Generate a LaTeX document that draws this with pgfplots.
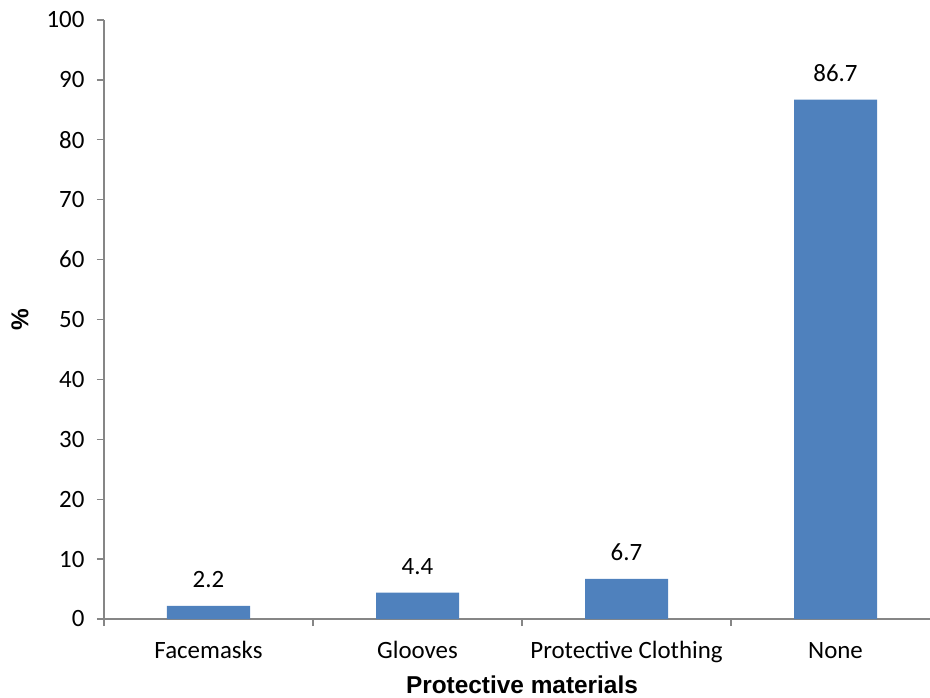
\documentclass[border=0pt]{standalone}
\usepackage{fontspec}
\setmainfont{Carlito}
\newfontfamily\arial{Liberation Sans}
\usepackage{pgfplots}
\pgfplotsset{compat=1.18}
\definecolor{barblue}{HTML}{4F81BD}
\definecolor{axgray}{HTML}{868686}
\newcommand\lab{\fontsize{24.9bp}{30bp}\selectfont}
\newcommand\alab{\fontsize{24.4bp}{30bp}\selectfont}
\begin{document}
\begin{tikzpicture}
\begin{axis}[
  scale only axis, width=836bp, height=599bp,
  xmin=-0.5, xmax=3.5, ymin=0, ymax=100,
  axis x line*=bottom, axis y line*=left,
  axis line style={axgray, line width=1.3bp},
  ytick={0,10,...,100},
  xtick={-0.5,0.5,1.5,2.5},
  xticklabels={,,,},
  extra x ticks={0,1,2,3},
  extra x tick labels={Facemasks,Glooves,Protective Clothing,None},
  extra x tick style={major tick length=0pt, xticklabel style={anchor=base, yshift=-39bp}},
  tick align=outside, major tick length=7bp,
  tick style={axgray, line width=1.3bp},
  ticklabel style={font=\lab, text=black},
  yticklabel style={xshift=-9bp},
  /pgf/number format/assume math mode=true,
  ylabel={\arial\bfseries\%},
  ylabel style={at={(rel axis cs:0,0.5)}, yshift=84bp, anchor=center, font=\alab},
  xlabel={\arial\bfseries Protective materials},
  xlabel style={at={(rel axis cs:0.5,0)}, anchor=base, yshift=-74bp, font=\alab},
  ybar, bar width=83bp,
  nodes near coords,
  every node near coord/.append style={font=\lab, anchor=base, yshift=18bp, inner sep=0pt},
]
\addplot[fill=barblue, draw=none] coordinates {(0,2.2) (1,4.4) (2,6.7) (3,86.7)};
\coordinate (O) at (rel axis cs:0,0);
\end{axis}
\pgfresetboundingbox
\useasboundingbox ([shift={(-104bp,-79bp)}]O) rectangle ([shift={(826bp,619bp)}]O);
\end{tikzpicture}
\end{document}
